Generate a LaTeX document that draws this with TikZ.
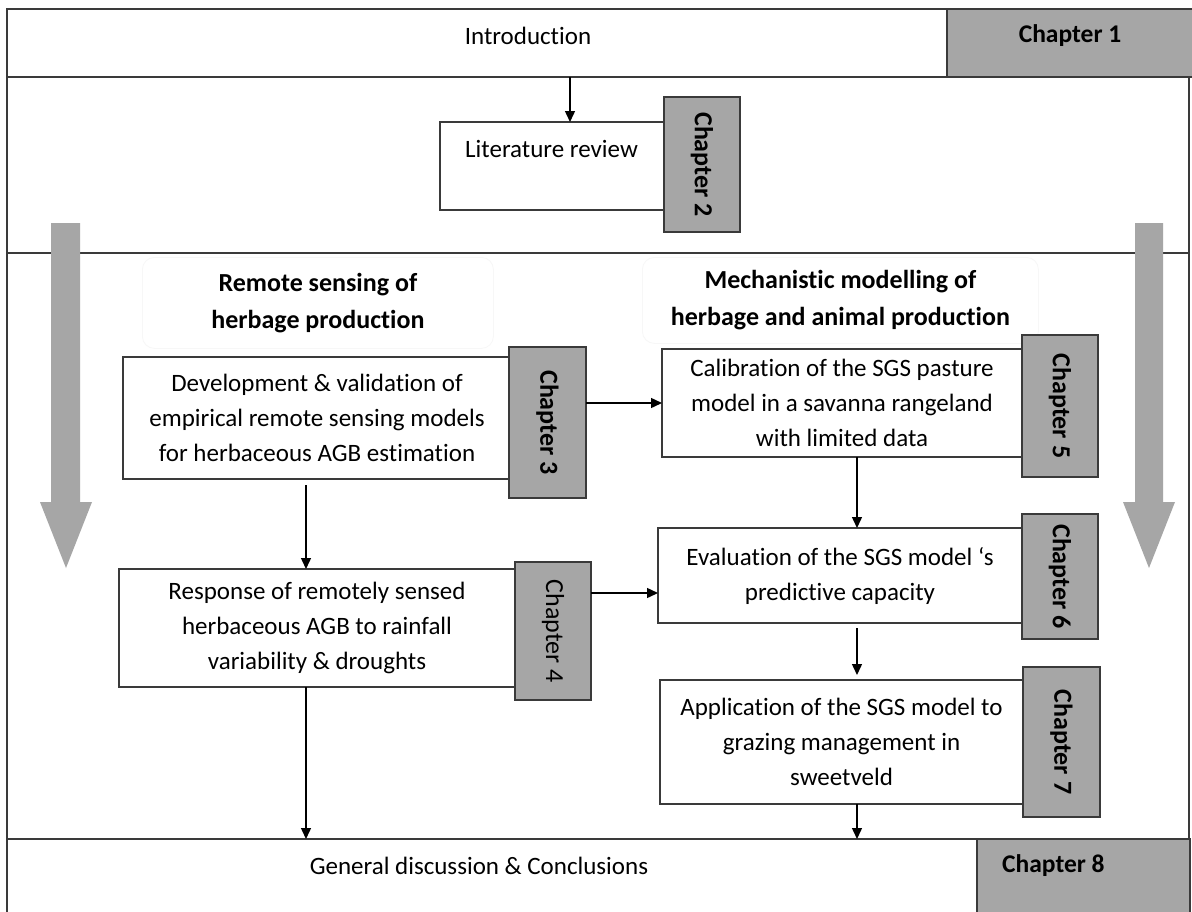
\documentclass[tikz,border=0pt]{standalone}
\usepackage{fontspec}
\setmainfont{Carlito}[Ligatures={TeX,NoCommon}]
\usetikzlibrary{arrows.meta}
\definecolor{chapgray}{HTML}{A6A6A6}
\definecolor{linec}{HTML}{3A3A3A}
\tikzset{
  framebox/.style={draw=linec, line width=1.5pt, inner sep=0pt, outer sep=0pt, anchor=north west},
  wbox/.style={draw=linec, line width=1.5pt, fill=white, inner sep=0pt, outer sep=0pt, anchor=north west,
    align=center, font=\fontsize{25}{35}\selectfont},
  cbox/.style={draw=linec, line width=1.5pt, fill=chapgray, inner sep=0pt, outer sep=0pt, anchor=north west,
    font=\fontsize{26}{30}\selectfont\bfseries},
  cboxr/.style={cbox, font=\fontsize{26}{30}\selectfont},
  plain/.style={inner sep=0pt, font=\fontsize{25}{30}\selectfont},
  chead/.style={inner sep=0pt, font=\fontsize{25.5}{30}\selectfont\bfseries},
  hbox/.style={draw=black!3, line width=0.8pt, rounded corners=12pt, inner sep=0pt, anchor=north west,
    align=center, font=\fontsize{26}{37}\selectfont\bfseries},
  conn/.style={draw=black, line width=1.4pt, -{Triangle[length=11pt,width=10pt]}},
  bigarrow/.style={fill=chapgray, draw=none}
}
\begin{document}
\begin{tikzpicture}[x=1pt,y=-1pt]
\useasboundingbox (0,0) rectangle (1192,911);
\clip (0,0) rectangle (1192,911);
\fill[white] (0,0) rectangle (1192,911);

% outer frame
\node[framebox, minimum width=1182pt, minimum height=762pt] (frame) at (7,77) {};
\node[framebox, fill=white, minimum width=1186pt, minimum height=68pt] (intro) at (7,9) {};
\node[cbox, minimum width=246pt, minimum height=68pt] (ch1) at (947,9) {};
\node[plain] (introtext) at (528,36) {Introduction};
\node[chead] (ch1text) at (1070,36) {Chapter 1};

\node[framebox, fill=white, minimum width=1183pt, minimum height=90pt] (concl) at (7,839) {};
\node[cbox, minimum width=213pt, minimum height=90pt] (ch8) at (977,839) {};
\node[plain] (concltext) at (479,866) {General discussion \& Conclusions};
\node[chead, anchor=west] (ch8text) at (1002,866) {Chapter 8};

% section divider
\coordinate (divy) at (0,253);
\draw[draw=linec, line width=1.5pt] (frame.west |- divy) -- (frame.east |- divy);

% big gray arrows
\fill[bigarrow] (51,223) -- (80,223) -- (80,502) -- (92,502) -- (66,568) -- (40,502) -- (51,502) -- cycle;
\fill[bigarrow] (1135,223) -- (1163,223) -- (1163,502) -- (1175,502) -- (1149,568) -- (1123,502) -- (1135,502) -- cycle;

% literature review
\node[wbox, minimum width=224pt, minimum height=88pt] (lit) at (440,122) {};
\node[plain, anchor=west] (littext) at (465,149) {Literature review};
\node[cbox, minimum width=76pt, minimum height=135pt] (g2) at (664,97) {\rotatebox{-90}{Chapter 2}};

% section headings
\node[hbox, minimum width=351pt, minimum height=91pt] (h1) at (142,257) {Remote sensing of\\herbage production};
\node[hbox, minimum width=396pt, minimum height=86pt] (h2) at (642,257) {Mechanistic modelling of\\herbage and animal production};

% left column
\node[wbox, minimum width=388pt, minimum height=122pt] (b3) at (123,357)
  {Development \& validation of\\empirical remote sensing models\\for herbaceous AGB estimation};
\node[cbox, minimum width=77pt, minimum height=151pt] (g3) at (509,347) {\rotatebox{-90}{Chapter 3}};

\node[wbox, minimum width=396pt, minimum height=118pt] (b4) at (119,569)
  {Response of remotely sensed\\herbaceous AGB to rainfall\\variability \& droughts};
\node[cboxr, minimum width=76pt, minimum height=138pt] (g4) at (515,562) {\rotatebox{-90}{Chapter 4}};

% right column
\node[wbox, minimum width=360pt, minimum height=108pt] (b5) at (662,349)
  {Calibration of the SGS pasture\\model in a savanna rangeland\\with limited data};
\node[cbox, minimum width=76pt, minimum height=142pt] (g5) at (1022,335) {\rotatebox{-90}{Chapter 5}};

\node[wbox, minimum width=364pt, minimum height=95pt] (b6) at (658,528)
  {Evaluation of the SGS model ‘s\\predictive capacity};
\node[cbox, minimum width=76pt, minimum height=125pt] (g6) at (1022,514) {\rotatebox{-90}{Chapter 6}};

\node[wbox, minimum width=363pt, minimum height=124pt] (b7) at (660,680)
  {Application of the SGS model to\\grazing management in\\sweetveld};
\node[cbox, minimum width=77pt, minimum height=150pt] (g7) at (1023,667) {\rotatebox{-90}{Chapter 7}};

% connector columns / rows
\coordinate (cI) at (570,0);
\coordinate (cL) at (306,0);
\coordinate (cR) at (857,0);
\coordinate (r4) at (0,593);

\draw[conn] (intro.south -| cI) -- (lit.north -| cI);
\draw[conn] ([yshift=-6pt]b3.south -| cL) -- (b4.north -| cL);
\draw[conn] (b4.south -| cL) -- (concl.north -| cL);
\draw[conn] (g3.east |- b5.west) -- (b5.west);
\draw[conn] (g4.east |- r4) -- (b6.west |- r4);
\draw[conn] (b5.south -| cR) -- (b6.north -| cR);
\draw[conn] ([yshift=-5pt]b6.south -| cR) -- ([yshift=5pt]b7.north -| cR);
\draw[conn] (b7.south -| cR) -- (concl.north -| cR);
\end{tikzpicture}
\end{document}
